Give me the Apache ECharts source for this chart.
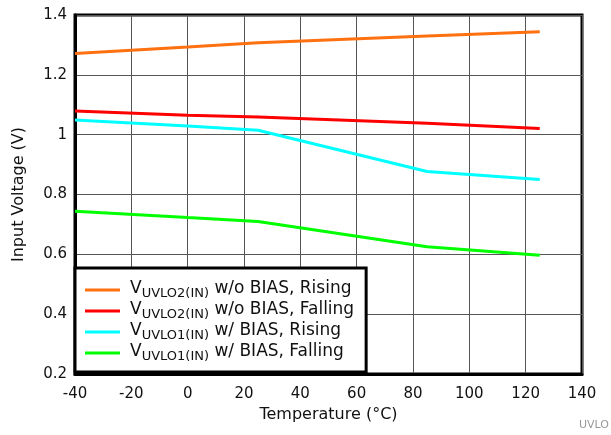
<!DOCTYPE html>
<html>
<head>
<meta charset="utf-8">
<script src="https://cdn.jsdelivr.net/npm/echarts@6/dist/echarts.min.js"></script>
<style>
  html, body { margin: 0; padding: 0; background: #fff; }
  #chart { width: 611px; height: 435px; }
</style>
</head>
<body>
<div id="chart"></div>
<script>
// temperature points (°C)
var temps = [-40, 0, 25, 85, 125]
// input voltage (V)
var uvlo2Rising = [1.271, 1.293, 1.307, 1.330, 1.344]
var uvlo2Falling = [1.079, 1.065, 1.059, 1.038, 1.021]
var uvlo1Rising = [1.049, 1.029, 1.015, 0.877, 0.850]
var uvlo1Falling = [0.744, 0.723, 0.710, 0.625, 0.597]

var seriesNames = [
  'UVLO2(IN)| w/o BIAS, Rising',
  'UVLO2(IN)| w/o BIAS, Falling',
  'UVLO1(IN)| w/ BIAS, Rising',
  'UVLO1(IN)| w/ BIAS, Falling'
]
var seriesData = [uvlo2Rising, uvlo2Falling, uvlo1Rising, uvlo1Falling]
var seriesColors = ['#FF7010', '#FF0000', '#00FFFF', '#00FF00']

var font = 'DejaVu Sans, sans-serif'

function pairs (ys) {
  return temps.map(function (t, i) { return [t, ys[i]] })
}

var chart = echarts.init(document.getElementById('chart'))

chart.setOption({
  animation: false,
  grid: {
    left: 75,
    right: 29,
    top: 15,
    bottom: 61,
    show: true,
    borderColor: '#000',
    borderWidth: 3,
    backgroundColor: 'transparent'
  },
  legend: {
    orient: 'vertical',
    left: 75,
    top: 268,
    backgroundColor: '#fff',
    borderColor: '#000',
    borderWidth: 3,
    borderRadius: 0,
    padding: [12, 12, 9, 10],
    itemWidth: 35,
    itemHeight: 3,
    itemGap: 1,
    icon: 'rect',
    z: 10,
    data: seriesNames,
    formatter: function (name) {
      var parts = name.split('|')
      return '{v|V}{s|' + parts[0] + '}{t|' + parts[1] + '}'
    },
    textStyle: {
      rich: {
        v: { fontFamily: font, fontSize: 17, color: '#111', lineHeight: 20, verticalAlign: 'top', padding: [0, 0, 0, 5] },
        s: { fontFamily: font, fontSize: 13, color: '#111', lineHeight: 10, verticalAlign: 'bottom' },
        t: { fontFamily: font, fontSize: 17, color: '#111', lineHeight: 20, verticalAlign: 'top' }
      }
    }
  },
  xAxis: {
    type: 'value',
    min: -40,
    max: 140,
    interval: 20,
    name: 'Temperature (°C)',
    nameLocation: 'middle',
    nameGap: 32,
    nameTextStyle: { fontFamily: font, fontSize: 16, color: '#111' },
    axisLine: { show: true, onZero: false, lineStyle: { color: '#000', width: 3 } },
    axisTick: { show: false },
    axisLabel: { fontFamily: font, fontSize: 15, color: '#111', margin: 13 },
    splitLine: { show: true, lineStyle: { color: '#555', width: 1 } }
  },
  yAxis: {
    type: 'value',
    min: 0.2,
    max: 1.4,
    interval: 0.2,
    name: 'Input Voltage (V)',
    nameLocation: 'middle',
    nameGap: 48,
    nameTextStyle: { fontFamily: font, fontSize: 16, color: '#111' },
    axisLine: { show: true, onZero: false, lineStyle: { color: '#000', width: 3 } },
    axisTick: { show: false },
    axisLabel: {
      fontFamily: font,
      fontSize: 15,
      color: '#111',
      margin: 8,
      formatter: function (v) { return String(Math.round(v * 10) / 10) }
    },
    splitLine: { show: true, lineStyle: { color: '#555', width: 1 } }
  },
  series: seriesNames.map(function (name, i) {
    return {
      name: name,
      type: 'line',
      data: pairs(seriesData[i]),
      showSymbol: false,
      symbol: 'none',
      color: seriesColors[i],
      lineStyle: { color: seriesColors[i], width: 3 },
      z: 3
    }
  }),
  graphic: [{
    type: 'text',
    right: 2,
    bottom: 4,
    style: { text: 'UVLO', fontFamily: font, fontSize: 11, fill: '#999' }
  }]
})
</script>
</body>
</html>
